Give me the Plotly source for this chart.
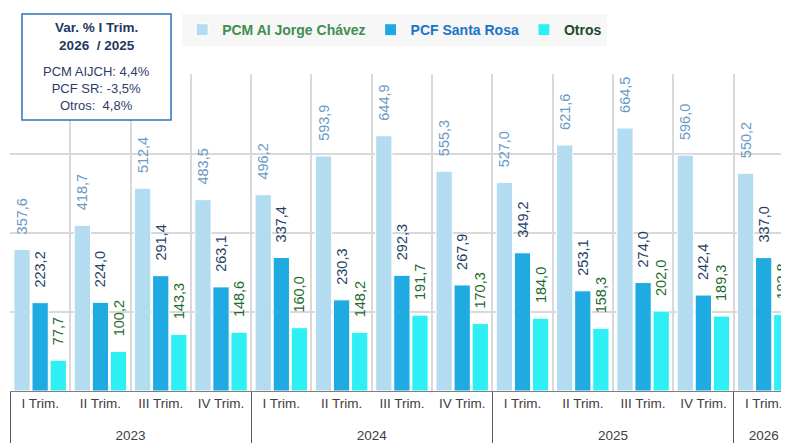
import plotly.graph_objects as go

# quarters and years (multicategory x axis)
years = ["2023"] * 4 + ["2024"] * 4 + ["2025"] * 4 + ["2026"]
quarters = ["I Trim.", "II Trim.", "III Trim.", "IV Trim."] * 3 + ["I Trim."]

pcm_jorge_chavez = [357.6, 418.7, 512.4, 483.5, 496.2, 593.9, 644.9, 555.3, 527.0, 621.6, 664.5, 596.0, 550.2]
pcf_santa_rosa = [223.2, 224.0, 291.4, 263.1, 337.4, 230.3, 292.3, 267.9, 349.2, 253.1, 274.0, 242.4, 337.0]
otros = [77.7, 100.2, 143.3, 148.6, 160.0, 148.2, 191.7, 170.3, 184.0, 158.3, 202.0, 189.3, 192.8]

var_lines = ["PCM AIJCH: 4,4%", "PCF SR: -3,5%", "Otros:  4,8%"]

FONT = "Liberation Sans Narrow, Arial Narrow, Liberation Sans, Arial, sans-serif"


def fmt(v):
    # comma as decimal separator, a little padding between bar and label
    return "\u00a0" * 3 + f"{v:.1f}".replace(".", ",")


# an invisible tiny second line pushes the year row a bit lower
quarter_labels = [q + "<br><span style='font-size:1px'>\u00a0</span>" for q in quarters]

series = [
    ("PCM AI Jorge Chávez", pcm_jorge_chavez, "#B4DCF1", "#6B9AC4", "#3E8E50"),
    ("PCF Santa Rosa", pcf_santa_rosa, "#1FAAE1", "#1F3F66", "#1A74C6"),
    ("Otros", otros, "#2EEFF3", "#1E6B2E", "#1E4A2A"),
]

fig = go.Figure()
for name, vals, color, label_color, legend_color in series:
    fig.add_trace(
        go.Bar(
            x=[years, quarter_labels],
            y=vals,
            name=f"<span style='color:{legend_color}'><b>{name}</b></span>",
            marker=dict(color=color, line=dict(color="white", width=1)),
            text=[fmt(v) for v in vals],
            textposition="outside",
            textangle=-90,
            constraintext="none",
            cliponaxis=False,
            textfont=dict(family=FONT, size=14.5, color=label_color),
        )
    )

# the page body keeps an 8px margin, so the figure is sized to end at the window edge
fig.update_layout(
    width=781,
    height=436,
    margin=dict(l=2, r=0, t=66, b=53, autoexpand=False),
    barmode="group",
    bargap=0.1,
    bargroupgap=0.1,
    plot_bgcolor="white",
    paper_bgcolor="white",
    font=dict(family=FONT, size=13, color="#404040"),
    showlegend=True,
    legend=dict(
        orientation="h",
        xref="container",
        yref="container",
        x=0.223,
        y=0.986,
        xanchor="left",
        yanchor="top",
        bgcolor="#F7F7F7",
        font=dict(family="Liberation Sans, Arial, sans-serif", size=14),
        itemwidth=30,
        traceorder="normal",
    ),
)

fig.update_xaxes(
    type="multicategory",
    range=[-0.5, 12.42],
    automargin=False,
    showgrid=True,
    gridcolor="#D9D9D9",
    gridwidth=1.5,
    tickson="boundaries",
    ticks="",
    showline=True,
    linecolor="#7F7F7F",
    linewidth=1,
    showdividers=True,
    dividercolor="#595959",
    dividerwidth=1,
    tickfont=dict(family=FONT, size=13.5, color="#404040"),
)
fig.update_yaxes(
    range=[0, 801],
    dtick=200,
    automargin=False,
    showgrid=True,
    gridcolor="#D9D9D9",
    gridwidth=1.5,
    showticklabels=False,
    zeroline=False,
)

# box with the year-on-year variation
fig.add_shape(
    type="rect",
    xref="paper",
    yref="paper",
    x0=0.0154,
    x1=0.2067,
    y0=0.855,
    y1=1.189,
    line=dict(color="#2E75B6", width=1.5),
    fillcolor="white",
    layer="above",
)
fig.add_annotation(
    xref="paper",
    yref="paper",
    x=0.111,
    y=1.118,
    xanchor="center",
    yanchor="middle",
    text="<b>Var. % I Trim.<br>2026  / 2025</b>",
    showarrow=False,
    align="center",
    font=dict(family=FONT, size=13.5, color="#1F3864"),
)
fig.add_annotation(
    xref="paper",
    yref="paper",
    x=0.111,
    y=0.953,
    xanchor="center",
    yanchor="middle",
    text="<br>".join(var_lines),
    showarrow=False,
    align="center",
    font=dict(family=FONT, size=13, color="#2F3B6B"),
)

fig.write_html("out.html")
